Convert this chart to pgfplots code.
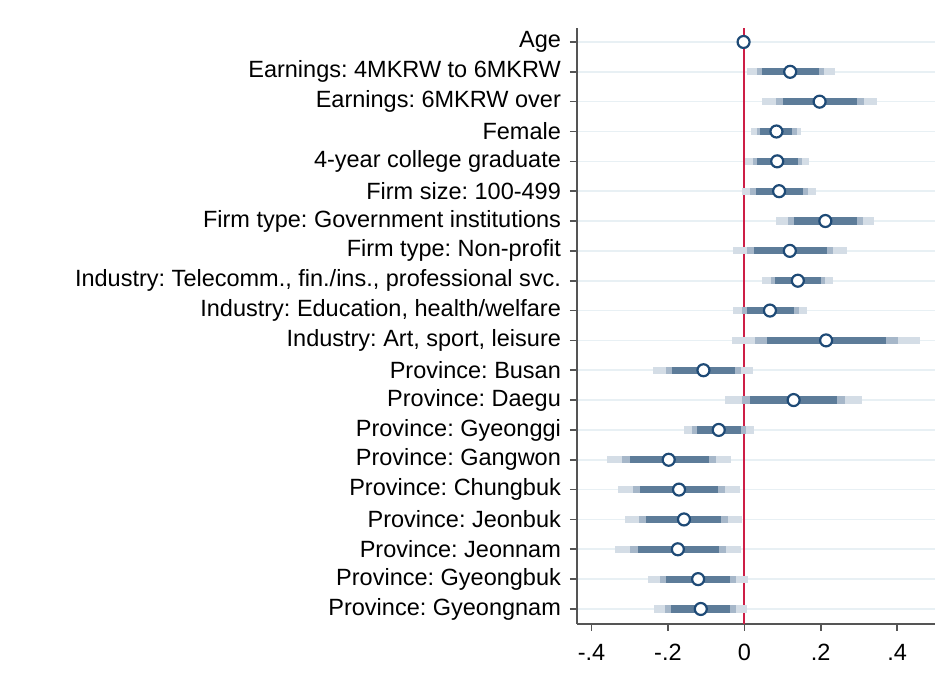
\documentclass[border=0pt]{standalone}
\usepackage{fontspec}
\setmainfont{Liberation Sans}
\usepackage{pgfplots}
\usepackage{pgfplotstable}
\pgfplotsset{compat=1.18}

\definecolor{ciA}{RGB}{212,221,230}
\definecolor{ciB}{RGB}{166,183,201}
\definecolor{ciC}{RGB}{93,124,153}
\definecolor{mkblue}{RGB}{30,74,118}
\definecolor{zeroline}{RGB}{205,30,70}
\definecolor{gridc}{RGB}{232,240,244}
\definecolor{spine}{RGB}{85,85,85}

% y b l99 h99 l95 h95 l90 h90
\pgfplotstableread{
y  b      l99    h99    l95    h95    l90    h90
20 -0.002 -0.004 0.000  -0.004 0.000  -0.003 -0.001
19 0.120  0.006  0.236  0.034  0.209  0.047  0.195
18 0.197  0.047  0.347  0.083  0.312  0.101  0.294
17 0.084  0.018  0.149  0.034  0.137  0.042  0.124
16 0.086  0.003  0.169  0.022  0.150  0.033  0.140
15 0.091  -0.005 0.188  0.015  0.166  0.030  0.154
14 0.212  0.084  0.340  0.114  0.310  0.130  0.294
13 0.119  -0.029 0.268  0.006  0.233  0.024  0.216
12 0.140  0.047  0.232  0.070  0.210  0.080  0.200
11 0.067  -0.029 0.164  -0.006 0.142  0.006  0.131
10 0.214  -0.031 0.460  0.028  0.402  0.059  0.371
9  -0.107 -0.238 0.022  -0.206 -0.009 -0.190 -0.024
8  0.129  -0.050 0.307  -0.006 0.264  0.016  0.243
7  -0.067 -0.158 0.024  -0.136 0.004  -0.125 -0.009
6  -0.198 -0.359 -0.035 -0.319 -0.074 -0.299 -0.093
5  -0.171 -0.330 -0.011 -0.292 -0.050 -0.273 -0.069
4  -0.158 -0.312 -0.006 -0.276 -0.043 -0.257 -0.060
3  -0.174 -0.339 -0.009 -0.299 -0.049 -0.279 -0.067
2  -0.121 -0.251 0.009  -0.221 -0.021 -0.204 -0.038
1  -0.114 -0.236 0.007  -0.207 -0.021 -0.192 -0.037
}\coef

\begin{document}
\frenchspacing
\begin{tikzpicture}
\useasboundingbox (-288.5pt,-35pt) rectangle (186pt,312pt);
\begin{axis}[
  at={(0,0)}, anchor=south west,
  scale only axis,
  width=179pt, height=298pt,
  xmin=-0.438, xmax=0.499,
  ymin=0.497, ymax=20.469,
  axis lines*=left,
  axis line style={-, draw=spine, line width=0.8pt},
  tick style={draw=spine, line width=0.8pt},
  tick align=outside,
  major tick length=3.5pt,
  xtick={-0.4,-0.2,0,0.2,0.4},
  xticklabels={-.4,-.2,0,.2,.4},
  ytick={1,...,20},
  yticklabels={
    Province: Gyeongnam,
    Province: Gyeongbuk,
    Province: Jeonnam,
    Province: Jeonbuk,
    Province: Chungbuk,
    Province: Gangwon,
    Province: Gyeonggi,
    Province: Daegu,
    Province: Busan,
    {Industry: Art, sport, leisure},
    {Industry: Education, health/welfare},
    {Industry: Telecomm., fin./ins., professional svc.},
    Firm type: Non-profit,
    Firm type: Government institutions,
    Firm size: 100-499,
    4-year college graduate,
    Female,
    Earnings: 6MKRW over,
    Earnings: 4MKRW to 6MKRW,
    Age},
  tick label style={font=\fontsize{11.75}{14}\selectfont, text=black},
  xticklabel style={yshift=-3pt},
  yticklabel style={xshift=-1pt},
  ymajorgrids,
  grid style={draw=gridc, line width=0.8pt},
  clip=false,
]
\addplot[draw=zeroline, line width=1pt, forget plot] coordinates {(0,0.497) (0,20.469)};

\addplot[only marks, mark=none, forget plot,
  error bars/.cd, x dir=both, x explicit, error mark=none,
  error bar style={draw=ciA, line width=3.6pt}]
  table[x=b, y=y, x error plus expr=\thisrow{h99}-\thisrow{b},
        x error minus expr=\thisrow{b}-\thisrow{l99}] {\coef};
\addplot[only marks, mark=none, forget plot,
  error bars/.cd, x dir=both, x explicit, error mark=none,
  error bar style={draw=ciB, line width=3.6pt}]
  table[x=b, y=y, x error plus expr=\thisrow{h95}-\thisrow{b},
        x error minus expr=\thisrow{b}-\thisrow{l95}] {\coef};
\addplot[only marks, mark=none, forget plot,
  error bars/.cd, x dir=both, x explicit, error mark=none,
  error bar style={draw=ciC, line width=3.6pt}]
  table[x=b, y=y, x error plus expr=\thisrow{h90}-\thisrow{b},
        x error minus expr=\thisrow{b}-\thisrow{l90}] {\coef};

\addplot[only marks, mark=*, mark size=3pt,
  mark options={fill=white, draw=mkblue, line width=1.1pt}]
  table[x=b, y=y] {\coef};
\end{axis}
\end{tikzpicture}
\end{document}
